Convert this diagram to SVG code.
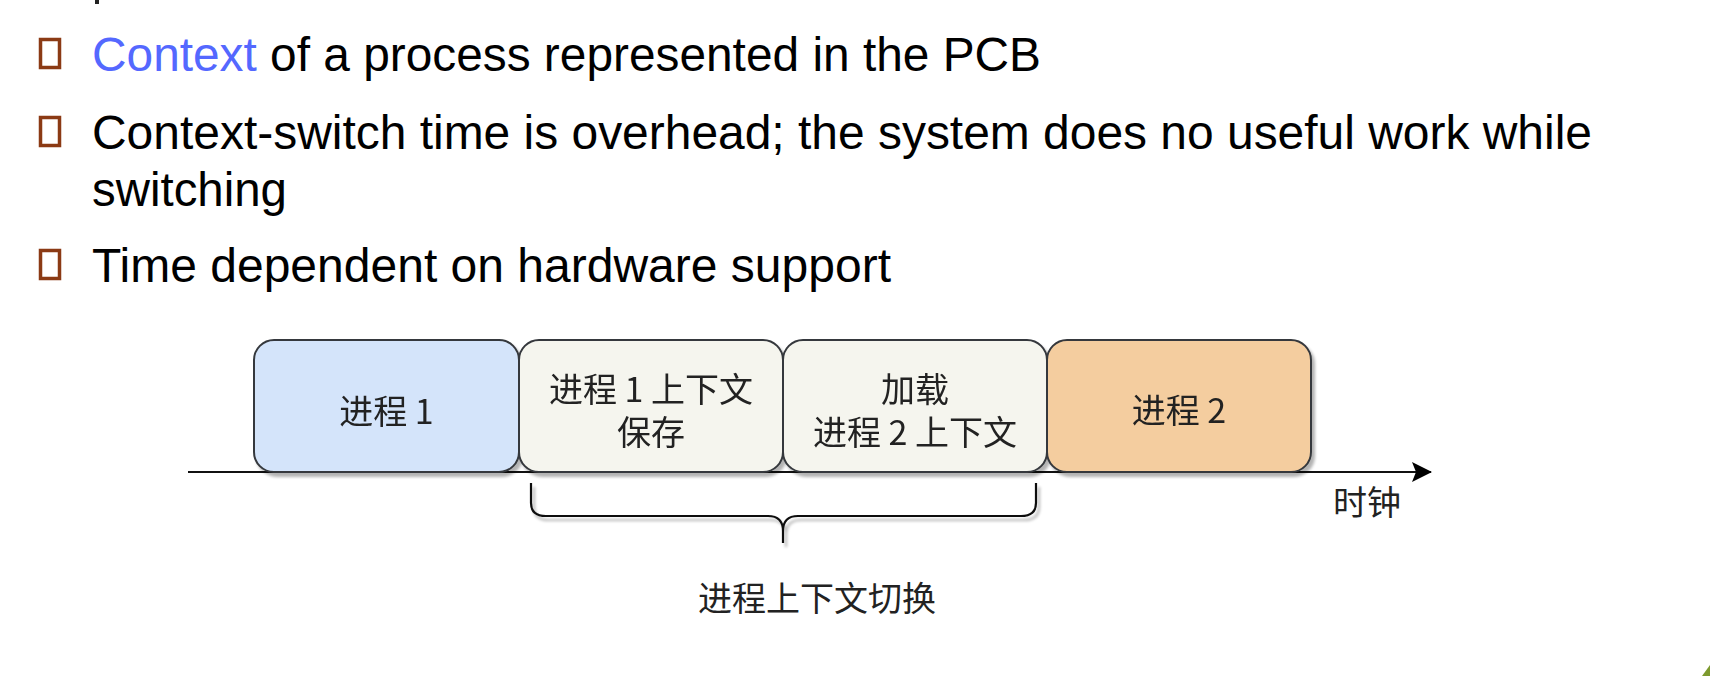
<svg xmlns="http://www.w3.org/2000/svg" width="1710" height="676" viewBox="0 0 1710 676">
<style>
.en{font-family:"Liberation Sans",Arial,sans-serif;font-size:48px;fill:#000}
.blue{fill:#5468ff}
.bul{fill:none;stroke:#8b3a14;stroke-width:3.5}
.box{stroke:#36393d;stroke-width:2}
.zh{font-family:"Noto Sans CJK SC","Noto Sans",sans-serif;font-size:34px;fill:#222;text-anchor:middle}
.line{fill:none;stroke:#111;stroke-width:2.2}
</style>
<defs>
<filter id="sh" x="-10%" y="-10%" width="130%" height="140%">
<feGaussianBlur in="SourceAlpha" stdDeviation="1.5"/>
<feOffset dx="3" dy="4" result="b"/>
<feComponentTransfer><feFuncA type="linear" slope="0.3"/></feComponentTransfer>
<feMerge><feMergeNode/><feMergeNode in="SourceGraphic"/></feMerge>
</filter>
<marker id="arr" viewBox="0 0 20 20" refX="19" refY="10" markerWidth="20" markerHeight="20" markerUnits="userSpaceOnUse" orient="auto">
<path d="M0,0 L20,10 L0,20 L4,10 Z" fill="#000"/>
</marker>
</defs>
<rect width="1710" height="676" fill="#fff"/>
<rect x="95" y="0" width="4" height="4" fill="#222"/>
<polygon points="1702,676 1710,665 1710,676" fill="#7d9a2e"/>

<g id="bullets">
<rect class="bul" x="40.5" y="39.5" width="19" height="28"/>
<rect class="bul" x="40.5" y="117.5" width="19" height="28"/>
<rect class="bul" x="40.5" y="250.5" width="19" height="28"/>
</g>
<g id="text">
<text class="en" x="92" y="71" textLength="949" lengthAdjust="spacingAndGlyphs"><tspan class="blue">Context</tspan> of a process represented in the PCB</text>
<text class="en" x="92" y="149" textLength="1500" lengthAdjust="spacingAndGlyphs">Context-switch time is overhead; the system does no useful work while</text>
<text class="en" x="92" y="206" textLength="195" lengthAdjust="spacingAndGlyphs">switching</text>
<text class="en" x="92" y="282" textLength="799" lengthAdjust="spacingAndGlyphs">Time dependent on hardware support</text>
</g>

<g id="connectors">
<line class="line" x1="188" y1="472" x2="1431" y2="472" marker-end="url(#arr)"/>
<path class="line" filter="url(#sh)" d="M531,483 V503 Q531,516 546,516 H768 Q783,516 783,531 V543 M783,531 Q783,516 798,516 H1021 Q1036,516 1036,503 V483"/>
</g>

<g id="p1" filter="url(#sh)">
<rect class="box" x="254" y="340" width="265" height="132" rx="20" fill="#d4e4fa"/>
<text class="zh" x="386.5" y="424">进程 1</text>
</g>
<g id="save" filter="url(#sh)">
<rect class="box" x="519" y="340" width="264" height="132" rx="20" fill="#f5f5ee"/>
<text class="zh" x="651" y="402">进程 1 上下文</text>
<text class="zh" x="651" y="445">保存</text>
</g>
<g id="load" filter="url(#sh)">
<rect class="box" x="783" y="340" width="264" height="132" rx="20" fill="#f5f5ee"/>
<text class="zh" x="915" y="402">加载</text>
<text class="zh" x="915" y="445">进程 2 上下文</text>
</g>
<g id="p2" filter="url(#sh)">
<rect class="box" x="1047" y="340" width="264" height="132" rx="20" fill="#f4cd9f"/>
<text class="zh" x="1179" y="423">进程 2</text>
</g>
<g id="labels">
<text class="zh" x="1367" y="515">时钟</text>
<text class="zh" x="817" y="611">进程上下文切换</text>
</g>
</svg>
